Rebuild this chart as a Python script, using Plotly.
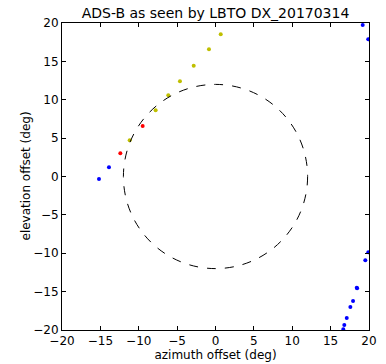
import plotly.graph_objects as go

blue_az = [-15.18, -13.88, 19.18, 19.9, 19.91, 19.52, 18.4, 18.45, 17.92, 17.57, 17.1, 16.78, 16.65]
blue_el = [-0.33, 1.2, 19.74, 17.88, -9.88, -10.92, -14.49, -14.55, -16.22, -17.0, -18.44, -19.35, -19.9]
red_az = [-12.4, -9.49]
red_el = [3.02, 6.58]
yellow_az = [-11.18, -7.8, -6.15, -4.63, -2.84, -0.85, 0.68]
yellow_el = [4.72, 8.62, 10.58, 12.4, 14.44, 16.57, 18.53]
fov_radius = 12
tick_vals = [-20, -15, -10, -5, 0, 5, 10, 15, 20]

fig = go.Figure()
fig.add_shape(type="circle", xref="x", yref="y",
              x0=-fov_radius, y0=-fov_radius, x1=fov_radius, y1=fov_radius,
              line=dict(color="black", width=1, dash="dash"))
for az, el, col in [(blue_az, blue_el, "#0000ff"), (red_az, red_el, "#ff0000"),
                    (yellow_az, yellow_el, "#bfbf00")]:
    fig.add_trace(go.Scatter(x=az, y=el, mode="markers",
                             marker=dict(color=col, size=4, line=dict(width=0)),
                             showlegend=False))

font = dict(family="DejaVu Sans", size=12, color="black")
axis_common = dict(range=[-20, 20], tickmode="array", tickvals=tick_vals,
                   ticks="inside", ticklen=4, tickwidth=1,
                   tickcolor="black", showline=True, linecolor="black", linewidth=1,
                   mirror="ticks", showgrid=False, zeroline=False, automargin=False,
                   tickfont=font)
fig.update_layout(
    width=386, height=364,
    margin=dict(l=62, r=17, t=23, b=34, autoexpand=False),
    paper_bgcolor="white", plot_bgcolor="white",
    title=dict(text="ADS-B as seen by LBTO DX_20170314", xref="paper", x=0.5,
               xanchor="center", yref="container", y=1 - 13 / 364, yanchor="middle",
               font=dict(family="DejaVu Sans", size=14, color="black")),
    xaxis=dict(**axis_common, title=dict(text="azimuth offset (deg)", standoff=0, font=font)),
    yaxis=dict(**axis_common),
    annotations=[dict(text="elevation offset (deg)", xref="paper", yref="paper",
                      x=0, y=0.5, xshift=-37, textangle=-90, showarrow=False,
                      xanchor="center", yanchor="middle", font=font)],
)
fig.write_html("out.html", config={"displayModeBar": False},
               post_script="document.body.style.margin='0';")
